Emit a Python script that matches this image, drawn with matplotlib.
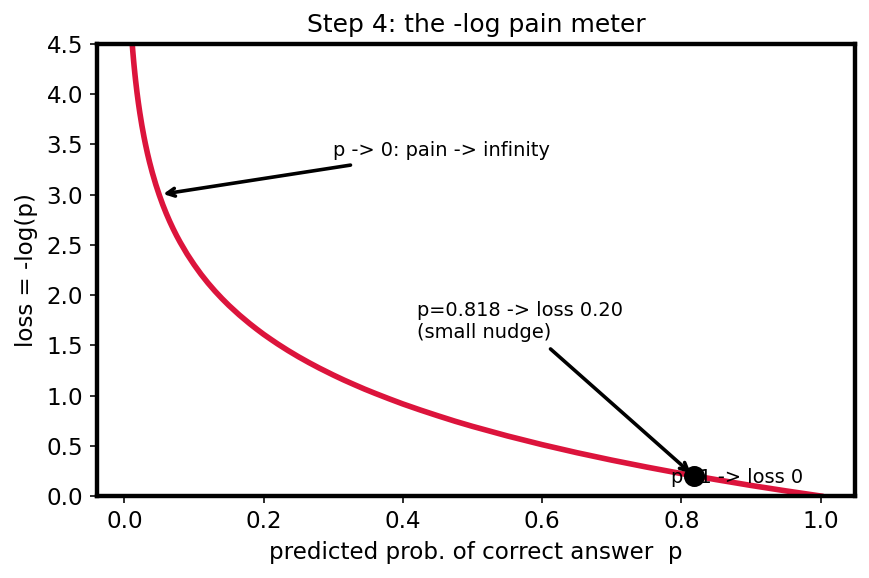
import matplotlib
matplotlib.use("Agg")
import matplotlib.pyplot as plt

# values
p_vals = [0.01, 0.011, 0.012, 0.013, 0.014, 0.015, 0.016, 0.018, 0.02, 0.022,
          0.025, 0.028, 0.03, 0.033, 0.036, 0.04, 0.045, 0.05, 0.055, 0.06,
          0.065, 0.07, 0.075, 0.08, 0.09, 0.1, 0.11, 0.12, 0.13, 0.14, 0.15,
          0.165, 0.18, 0.19, 0.2, 0.21, 0.22, 0.235, 0.25, 0.265, 0.28, 0.3,
          0.315, 0.33, 0.345, 0.36, 0.38, 0.4, 0.425, 0.45, 0.475, 0.5,
          0.55, 0.6, 0.65, 0.7, 0.75, 0.8, 0.85, 0.9, 0.95, 1.0]
loss_vals = [4.605, 4.510, 4.423, 4.343, 4.269, 4.200, 4.135, 4.017, 3.912, 3.817,
             3.689, 3.576, 3.507, 3.411, 3.324, 3.219, 3.101, 2.996, 2.900, 2.813,
             2.733, 2.659, 2.590, 2.526, 2.408, 2.303, 2.207, 2.120, 2.040, 1.966, 1.897,
             1.802, 1.715, 1.661, 1.609, 1.561, 1.514, 1.448, 1.386, 1.328, 1.273, 1.204,
             1.155, 1.109, 1.064, 1.022, 0.968, 0.916, 0.856, 0.799, 0.744, 0.693,
             0.598, 0.511, 0.431, 0.357, 0.288, 0.223, 0.163, 0.105, 0.051, 0.0]

p_pick = 0.818
loss_pick = 0.20

fig = plt.figure(figsize=(869 / 144, 578 / 144), dpi=144)
ax = fig.add_subplot(111)
fig.subplots_adjust(left=0.1116, right=0.9839, top=0.9239, bottom=0.1419)

ax.plot(p_vals, loss_vals, color="crimson", lw=2.8)
ax.set_ylim(0, 4.5)

ax.annotate("p -> 0: pain -> infinity", xy=(0.05, 3.0), xytext=(0.3, 3.38),
            fontsize=9.7, arrowprops=dict(arrowstyle="->", lw=1.8, color="black"))
ax.annotate("p=0.818 -> loss 0.20\n(small nudge)", xy=(p_pick, loss_pick),
            xytext=(0.42, 1.57), fontsize=9.7,
            arrowprops=dict(arrowstyle="->", lw=1.8, color="black"))
ax.text(0.785, 0.13, "p=1 -> loss 0", fontsize=9.7)
ax.plot([p_pick], [loss_pick], "o", color="black", ms=9.5, zorder=5)

ax.set_xlabel("predicted prob. of correct answer  p", fontsize=11.5)
ax.set_ylabel("loss = -log(p)", fontsize=11.5)
ax.set_title("Step 4: the -log pain meter", fontsize=12.5)
ax.tick_params(labelsize=11.5)

for s in ax.spines.values():
    s.set_linewidth(2.2)

fig.savefig("out.png", dpi=144)
